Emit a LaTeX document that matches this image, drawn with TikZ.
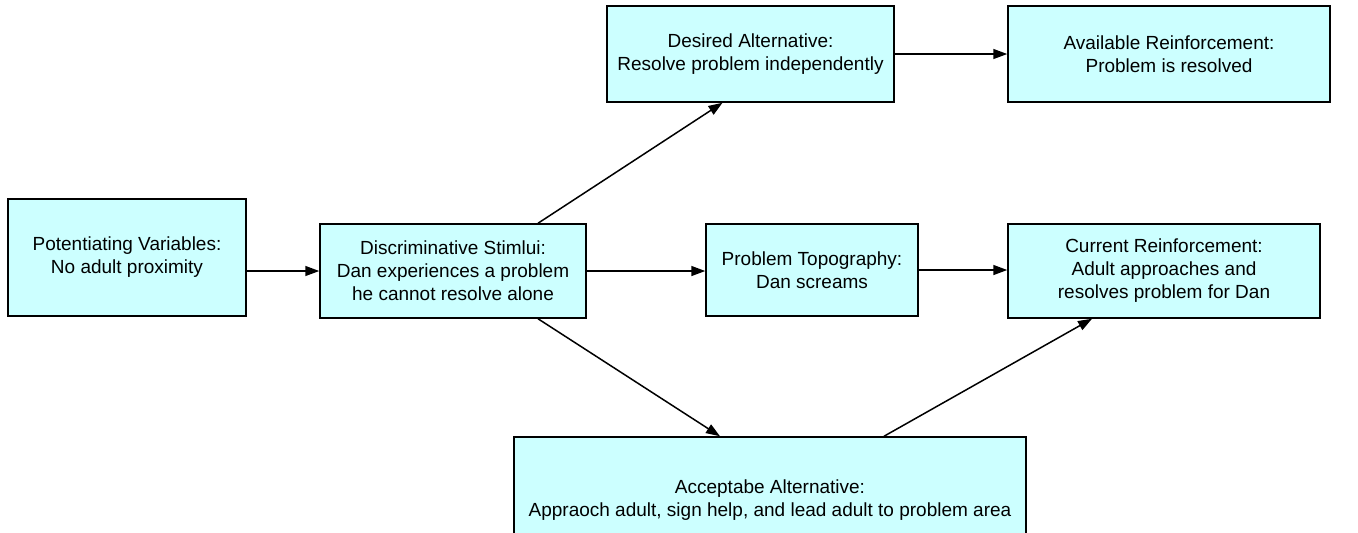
\documentclass[tikz,border=0pt]{standalone}
\usepackage{fontspec}
\setmainfont{Liberation Sans}
\usetikzlibrary{arrows.meta}
\definecolor{boxfill}{HTML}{CCFFFF}
\begin{document}
\begin{tikzpicture}[x=1pt,y=-1pt,
  box/.style={draw=black, line width=1.5pt, fill=boxfill, align=center, inner sep=0pt,
    font=\fontsize{19}{23}\selectfont},
  arr/.style={line width=1.5pt, -{Triangle[length=14pt,width=10pt]}}]
\useasboundingbox (0,0) rectangle (1358,533);
\node[box, minimum width=238, minimum height=117] (pot) at (127,257.5) {Potentiating Variables:\\No adult proximity};
\node[box, minimum width=266, minimum height=94] (disc) at (453,271) {Discriminative Stimlui:\\Dan experiences a problem\\he cannot resolve alone};
\node[box, minimum width=212, minimum height=92] (pt) at (812,270) {Problem Topography:\\Dan screams};
\node[box, minimum width=312, minimum height=94] (cur) at (1164,271) {Current Reinforcement:\\Adult approaches and\\resolves problem for Dan};
\node[box, minimum width=287, minimum height=96] (des) at (750.5,54) {Desired Alternative:\\Resolve problem independently};
\node[box, minimum width=322, minimum height=96] (avail) at (1169,54) {Available Reinforcement:\\Problem is resolved};
\node[box, minimum width=512, minimum height=126] (acc) at (770,500) {Acceptabe Alternative:\\Appraoch adult, sign help, and lead adult to problem area};
\draw[arr] (pot.east |- disc.west) -- (disc.west);
\draw[arr] (disc.east) -- (pt.west |- disc.east);
\draw[arr] (pt.east) -- (cur.west |- pt.east);
\draw[arr] (des.east) -- (avail.west |- des.east);
\draw[arr] ([xshift=85pt]disc.north) -- ([xshift=-28pt]des.south);
\draw[arr] ([xshift=85pt]disc.south) -- ([xshift=-50pt]acc.north);
\draw[arr] ([xshift=114pt]acc.north) -- ([xshift=-72pt]cur.south);
\end{tikzpicture}
\end{document}
